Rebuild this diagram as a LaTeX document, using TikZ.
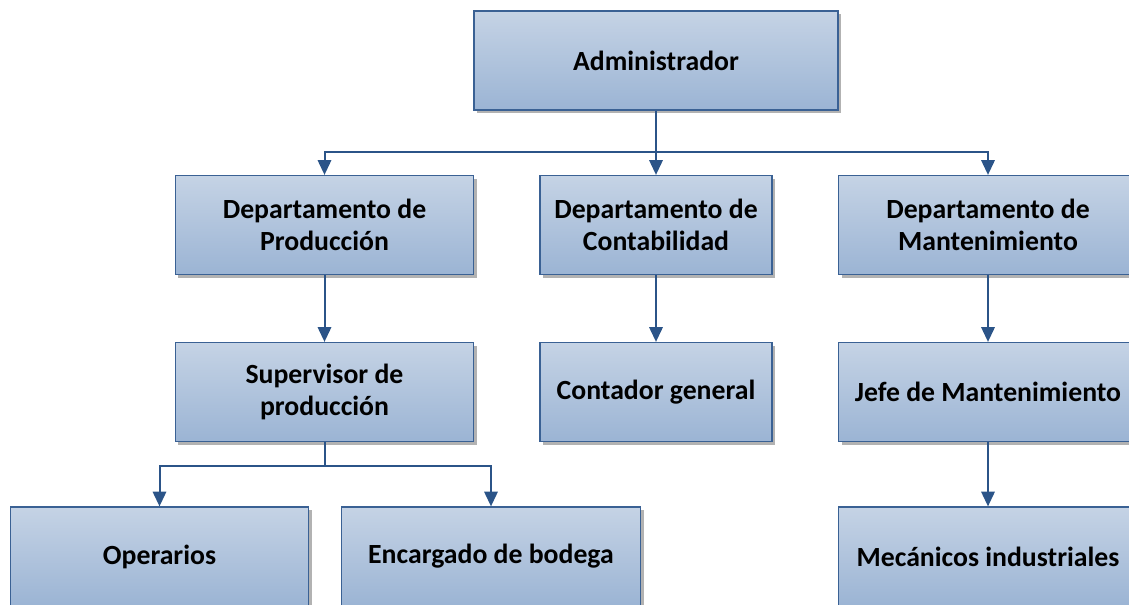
\documentclass[tikz,border=0pt]{standalone}
\usepackage{fontspec}
\setmainfont{Carlito}
\usetikzlibrary{arrows.meta, shadows}

\definecolor{boxtop}{HTML}{C5D3E5}
\definecolor{boxbot}{HTML}{9BB4D4}
\definecolor{boxline}{HTML}{3A6194}
\definecolor{link}{HTML}{2B5488}

\begin{document}
\begin{tikzpicture}[
        x=0.75pt,
        y=-0.75pt,
        unit/.style={
            draw=boxline, line width=0.9pt,
            top color=boxtop, bottom color=boxbot,
            drop shadow={shadow xshift=2.4pt, shadow yshift=-2.4pt,
                fill=black!55, opacity=.55},
            minimum height=74.25pt, inner sep=0pt,
            align=center, font=\fontsize{20.8}{24.5}\selectfont\bfseries
            },
        wide/.style={unit, minimum width=224pt},
        link/.style={draw=link, line width=1.5pt},
        arr/.style={link, -{Triangle[width=10pt, length=11pt]}}
        ]
            \useasboundingbox (0,0) rectangle (1129,605);
            \clip (0,0) rectangle (1129,605);

            \node[unit, minimum width=273pt] (ADMIN) at (656,60.5) {Administrador};

            \node[wide] (PROD) at (324.5,225) {Departamento de\\Producción};
            \node[unit, minimum width=174pt] (CONT) at (656,225) {Departamento de\\Contabilidad};
            \node[wide] (MANT) at (988,225) {Departamento de\\Mantenimiento};

            \node[wide] (SUP) at (324.5,392) {Supervisor de\\producción};
            \node[unit, minimum width=174pt] (CONTG) at (656,392) {Contador general};
            \node[wide] (JEFE) at (988,392) {Jefe de Mantenimiento};

            \node[wide] (OPER) at (159.5,556.5) {Operarios};
            \node[wide] (BOD) at (491,556.5) {Encargado de bodega};
            \node[wide] (MEC) at (988,556.5) {Mecánicos industriales};

            % buses
            \coordinate (TOPBUS) at (656,152);
            \coordinate (SUPBUS) at (324.5,466);

            \draw[link] (ADMIN.south) -- (TOPBUS);
            \draw[arr] (TOPBUS) -| (PROD.north);
            \draw[arr] (TOPBUS) -- (CONT.north);
            \draw[arr] (TOPBUS) -| (MANT.north);

            \draw[arr] (PROD) -- (SUP);
            \draw[arr] (CONT) -- (CONTG);
            \draw[arr] (MANT) -- (JEFE);

            \draw[link] (SUP.south) -- (SUPBUS);
            \draw[arr] (SUPBUS) -| (OPER.north);
            \draw[arr] (SUPBUS) -| (BOD.north);
            \draw[arr] (JEFE) -- (MEC);
        \end{tikzpicture}
\end{document}
